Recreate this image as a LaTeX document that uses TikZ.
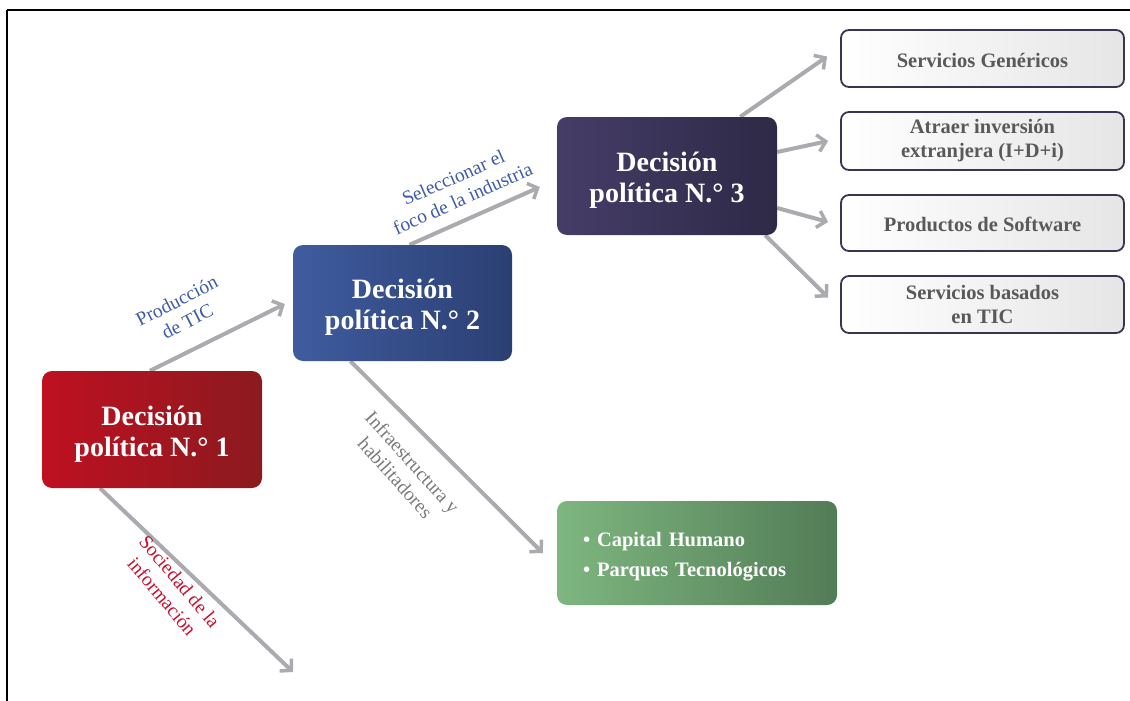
\documentclass[tikz,border=0pt]{standalone}
\usepackage{fontspec}
\setmainfont{Liberation Serif}
\usetikzlibrary{arrows.meta,calc}
\pgfdeclarelayer{background}
\pgfsetlayers{background,main}

\definecolor{redL}{HTML}{BF1020}
\definecolor{redR}{HTML}{8B1A1F}
\definecolor{blueL}{HTML}{3F5C9F}
\definecolor{blueR}{HTML}{2B3F72}
\definecolor{purL}{HTML}{463D68}
\definecolor{purR}{HTML}{2D2946}
\definecolor{grnL}{HTML}{7EB680}
\definecolor{grnR}{HTML}{527C56}
\definecolor{optBorder}{HTML}{3A3454}
\definecolor{optText}{HTML}{595959}
\definecolor{arrowGray}{HTML}{ABABAF}
\definecolor{lblBlue}{HTML}{3E5BA8}
\definecolor{lblGray}{HTML}{7A7A7A}
\definecolor{lblRed}{HTML}{C8102E}

% taller first line pushes the two-line titles slightly down
\newcommand{\toppad}[1]{\rule{0pt}{#1}}

\begin{document}
\begin{tikzpicture}[x=1pt,y=-1pt,
  decision/.style={rectangle, rounded corners=10pt, minimum width=220pt,
    minimum height=117pt, inner sep=0pt, text=white, align=center,
    font=\bfseries\fontsize{28}{31}\selectfont},
  option/.style={rectangle, rounded corners=8pt, draw=optBorder, line width=1.8pt,
    left color=white, right color=black!10, minimum width=283pt, minimum height=57pt,
    inner sep=0pt, text=optText, align=center,
    font=\bfseries\fontsize{20.5}{24}\selectfont},
  flow/.style={draw=arrowGray, line width=4pt,
    -{Straight Barb[length=8pt,width=17pt,line width=3.5pt]}},
  lbl/.style={align=center, inner sep=0pt, font=\fontsize{19.5}{23}\selectfont}
]
\useasboundingbox (0,0) rectangle (1130,701);

% page frame
\draw[line width=2pt] (7,10) -- (1140,10);
\draw[line width=2pt] (7,10) -- (7,710);

% decisions
\node[decision, left color=redL, right color=redR] (b1) at (152,429.5)
  {\toppad{28pt}Decisión\\política N.° 1};
\node[decision, left color=blueL, right color=blueR, minimum width=219pt,
  minimum height=116pt] (b2) at (402.5,303) {\toppad{28pt}Decisión\\política N.° 2};
\node[decision, left color=purL, right color=purR, minimum height=118pt]
  (b3) at (667,176) {\toppad{28pt}Decisión\\política N.° 3};

% industry focus options
\node[option] (oa) at (982.5,58.5) {\toppad{18pt}Servicios Genéricos};
\node[option, minimum height=58pt] (ob) at (982.5,141)
  {Atraer inversión\\extranjera (I+D+i)};
\node[option, minimum height=56pt] (oc) at (982.5,223) {\toppad{18pt}Productos de Software};
\node[option] (od) at (982.5,304.5) {Servicios basados\\en TIC};

% enablers
\node[rectangle, rounded corners=10pt, left color=grnL, right color=grnR,
  minimum width=280pt, minimum height=104pt, text width=228pt, inner xsep=26pt,
  align=left, text=white, font=\bfseries\fontsize{20.5}{30}\selectfont]
  (gr) at (697,553) {\toppad{21pt}• Capital Humano\\• Parques Tecnológicos};

\coordinate (soc) at (293,672);

% connectors
\begin{pgfonlayer}{background}
\draw[flow] ($(b1.north)+(-2,0)$) -- ($(b2.west)+(-8,1)$);
\draw[flow] ($(b1.south)+(-52,0)$) -- (soc);
\draw[flow] ($(b2.north)+(7,0)$) -- ($(b3.west)+(-17,11)$);
\draw[flow] ($(b2.south)+(-52,0)$) -- ($(gr.west)+(-14,0)$);
\draw[flow] ($(b3.north east)+(-37,0)$) -- ($(oa.west)+(-13,-2)$);
\draw[flow] ($(b3.east)+(0,-24)$) -- ($(ob.west)+(-12,0)$);
\draw[flow] ($(b3.east)+(0,32)$) -- ($(oc.west)+(-12,-1)$);
\draw[flow] ($(b3.south east)+(-12,0)$) -- ($(od.west)+(-12,-7)$);
\end{pgfonlayer}

% connector labels
\node[lbl, text=lblBlue, rotate=27] (l1) at (182,311) {Producción\\de TIC};
\node[lbl, text=lblBlue, rotate=24] (l2) at (458,188)
  {Seleccionar el\\foco de la industria};
\node[lbl, text=lblGray, rotate=-48] (l3) at (404,470)
  {Infraestructura y\\habilitadores};
\node[lbl, text=lblRed, rotate=-50] (l4) at (171,589)
  {Sociedad de la\\información};
\end{tikzpicture}
\end{document}
